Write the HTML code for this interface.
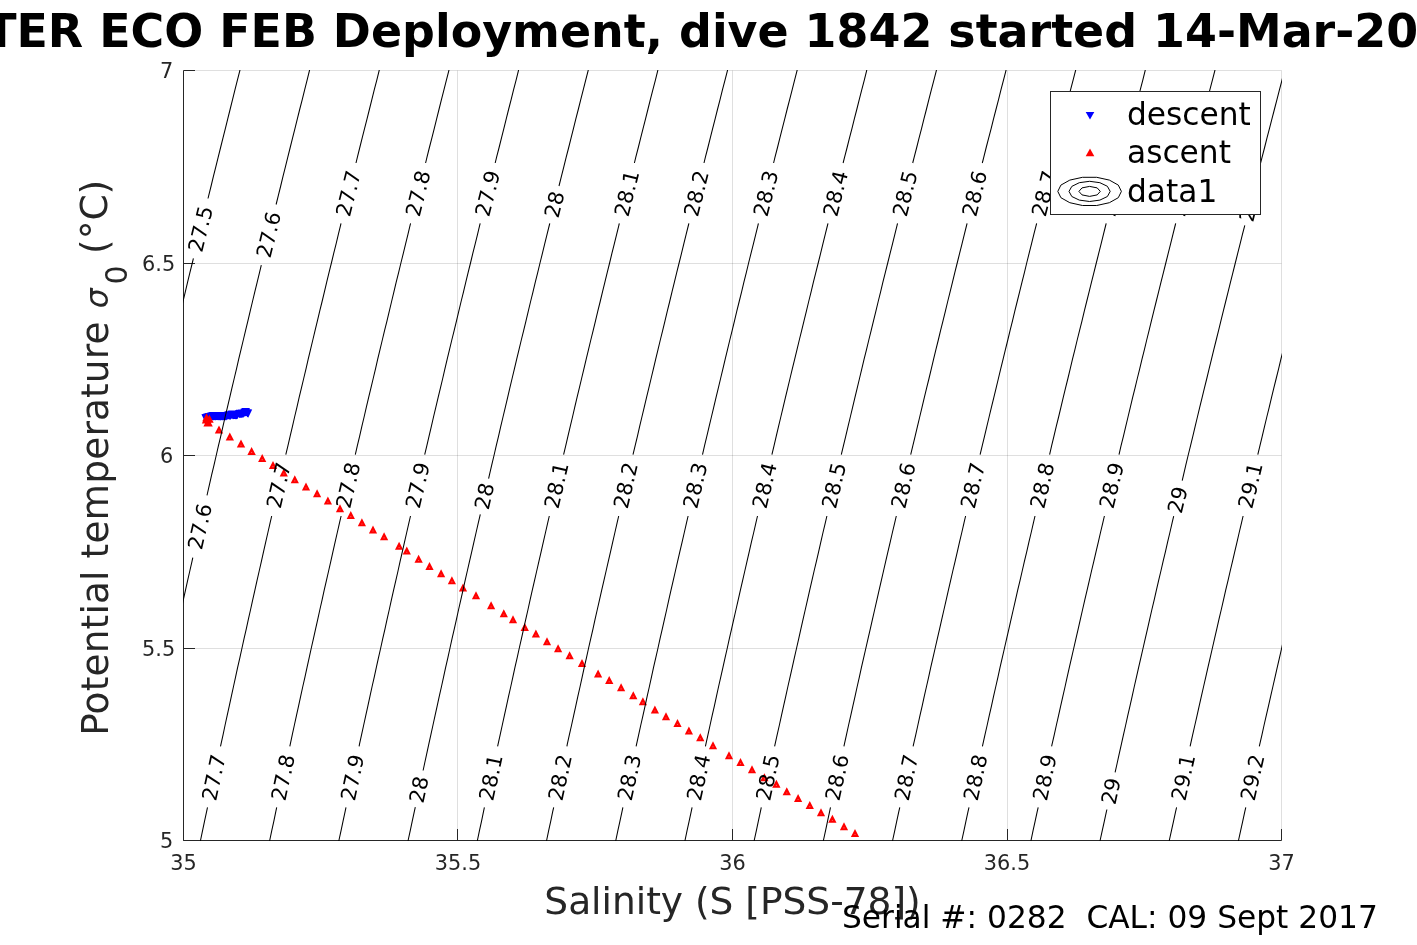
<!DOCTYPE html>
<html lang="en"><head><meta charset="utf-8"><title>T-S diagram</title>
<style>html,body{margin:0;padding:0;background:#fff;}body{width:1417px;height:945px;overflow:hidden;}svg{display:block;font-family:"DejaVu Sans","Liberation Sans",sans-serif;}</style></head><body>
<svg width="1417" height="945" viewBox="0 0 1417 945">
<defs><clipPath id="pa"><rect x="183" y="70" width="1099" height="771"/></clipPath></defs>
<rect width="1417" height="945" fill="#fff"/>
<g stroke="rgba(38,38,38,0.15)" stroke-width="1" fill="none">
<line x1="457.5" y1="70.5" x2="457.5" y2="840.5"/>
<line x1="732.5" y1="70.5" x2="732.5" y2="840.5"/>
<line x1="1007.5" y1="70.5" x2="1007.5" y2="840.5"/>
<line x1="1281.5" y1="70.5" x2="1281.5" y2="840.5"/>
<line x1="183.5" y1="648.5" x2="1281.5" y2="648.5"/>
<line x1="183.5" y1="455.5" x2="1281.5" y2="455.5"/>
<line x1="183.5" y1="263.5" x2="1281.5" y2="263.5"/>
<line x1="183.5" y1="70.5" x2="1281.5" y2="70.5"/>
</g>
<g stroke="#262626" stroke-width="1" fill="none">
<path d="M183.5 70.5V840.5H1281.5"/>
<line x1="183.5" y1="840.5" x2="183.5" y2="829"/>
<line x1="457.5" y1="840.5" x2="457.5" y2="829"/>
<line x1="732.5" y1="840.5" x2="732.5" y2="829"/>
<line x1="1007.5" y1="840.5" x2="1007.5" y2="829"/>
<line x1="1281.5" y1="840.5" x2="1281.5" y2="829"/>
<line x1="183.5" y1="840.5" x2="195" y2="840.5"/>
<line x1="183.5" y1="648.5" x2="195" y2="648.5"/>
<line x1="183.5" y1="455.5" x2="195" y2="455.5"/>
<line x1="183.5" y1="263.5" x2="195" y2="263.5"/>
<line x1="183.5" y1="70.5" x2="195" y2="70.5"/>
</g>
<g font-size="20.83" fill="#262626">
<text x="183.5" y="870.3" text-anchor="middle">35</text>
<text x="458.0" y="870.3" text-anchor="middle">35.5</text>
<text x="732.5" y="870.3" text-anchor="middle">36</text>
<text x="1007.0" y="870.3" text-anchor="middle">36.5</text>
<text x="1281.5" y="870.3" text-anchor="middle">37</text>
<text x="173.2" y="847.8" text-anchor="end">5</text>
<text x="175.2" y="656.0" text-anchor="end">5.5</text>
<text x="173.2" y="462.8" text-anchor="end">6</text>
<text x="175.2" y="271.0" text-anchor="end">6.5</text>
<text x="173.2" y="77.8" text-anchor="end">7</text>
</g>
<g clip-path="url(#pa)">
<path fill="#0000ff" d="M201.4 414.2L209.4 414.2L205.4 422.5ZM202.2 414.0L210.2 414.0L206.2 422.3ZM202.9 413.8L210.9 413.8L206.9 422.1ZM203.7 413.5L211.7 413.5L207.7 421.8ZM204.5 413.3L212.5 413.3L208.5 421.6ZM205.2 413.1L213.2 413.1L209.2 421.4ZM206.0 412.9L214.0 412.9L210.0 421.2ZM206.8 412.7L214.8 412.7L210.8 421.0ZM207.6 412.4L215.6 412.4L211.6 420.7ZM208.3 412.2L216.3 412.2L212.3 420.5ZM209.1 412.0L217.1 412.0L213.1 420.3ZM209.1 412.1L217.1 412.1L213.1 420.4ZM209.8 412.2L217.8 412.2L213.8 420.5ZM210.5 412.1L218.5 412.1L214.5 420.4ZM211.2 412.2L219.2 412.2L215.2 420.5ZM211.9 412.3L219.9 412.3L215.9 420.6ZM212.6 412.0L220.6 412.0L216.6 420.3ZM213.3 412.0L221.3 412.0L217.3 420.3ZM214.0 412.3L222.0 412.3L218.0 420.6ZM214.7 412.1L222.7 412.1L218.7 420.4ZM215.4 412.1L223.4 412.1L219.4 420.4ZM216.1 412.4L224.1 412.4L220.1 420.7ZM216.8 412.2L224.8 412.2L220.8 420.5ZM217.5 412.3L225.5 412.3L221.5 420.6ZM218.2 412.2L226.2 412.2L222.2 420.5ZM218.9 412.3L226.9 412.3L222.9 420.6ZM219.6 412.1L227.6 412.1L223.6 420.4ZM220.3 412.3L228.3 412.3L224.3 420.6ZM221.0 412.3L229.0 412.3L225.0 420.6ZM221.7 412.2L229.7 412.2L225.7 420.5ZM222.4 412.3L230.4 412.3L226.4 420.6ZM223.8 411.7L231.8 411.7L227.8 420.0ZM224.7 411.3L232.7 411.3L228.7 419.6ZM225.6 411.8L233.6 411.8L229.6 420.1ZM226.5 411.7L234.5 411.7L230.5 420.0ZM227.5 410.8L235.5 410.8L231.5 419.1ZM228.2 410.6L236.2 410.6L232.2 418.9ZM229.0 411.1L237.0 411.1L233.0 419.4ZM229.8 410.9L237.8 410.9L233.8 419.2ZM230.5 411.0L238.5 411.0L234.5 419.3ZM231.2 411.1L239.2 411.1L235.2 419.4ZM232.0 411.0L240.0 411.0L236.0 419.3ZM232.8 411.2L240.8 411.2L236.8 419.5ZM233.5 410.8L241.5 410.8L237.5 419.1ZM235.2 409.9L243.2 409.9L239.2 418.2ZM235.9 409.7L243.9 409.7L239.9 418.0ZM236.6 410.0L244.6 410.0L240.6 418.3ZM237.3 410.0L245.3 410.0L241.3 418.3ZM238.0 409.4L246.0 409.4L242.0 417.7ZM238.7 409.4L246.7 409.4L242.7 417.7ZM239.4 409.5L247.4 409.5L243.4 417.8ZM240.4 408.8L248.4 408.8L244.4 417.1ZM241.4 408.1L249.4 408.1L245.4 416.4ZM242.0 408.2L250.0 408.2L246.0 416.5ZM243.4 409.3L251.4 409.3L247.4 417.6ZM244.2 409.4L252.2 409.4L248.2 417.7Z"/>
<path fill="#ff0000" d="M202.3 421.2L210.7 421.2L206.5 413.2ZM205.3 422.8L213.7 422.8L209.5 414.8ZM201.8 423.6L210.2 423.6L206.0 415.6ZM204.4 426.6L212.8 426.6L208.6 418.6ZM203.4 426.6L211.8 426.6L207.6 418.6ZM214.8 433.4L223.2 433.4L219.0 425.4ZM225.7 440.6L234.0 440.6L229.8 432.6ZM236.8 447.6L245.2 447.6L241.0 439.6ZM247.4 454.9L255.8 454.9L251.6 446.9ZM258.1 462.0L266.3 462.0L262.2 454.0ZM268.9 469.0L277.1 469.0L273.0 461.0ZM279.7 476.4L287.9 476.4L283.8 468.4ZM290.7 483.2L298.9 483.2L294.8 475.2ZM301.9 490.4L310.1 490.4L306.0 482.4ZM313.0 497.3L321.2 497.3L317.1 489.3ZM323.8 504.6L332.0 504.6L327.9 496.6ZM335.9 512.3L344.1 512.3L340.0 504.3ZM346.7 519.0L354.9 519.0L350.8 511.0ZM357.8 526.3L366.0 526.3L361.9 518.3ZM368.9 533.4L377.1 533.4L373.0 525.4ZM380.0 540.2L388.2 540.2L384.1 532.2ZM395.0 549.8L403.2 549.8L399.1 541.8ZM402.7 554.6L410.9 554.6L406.8 546.6ZM414.5 562.8L422.8 562.8L418.6 554.8ZM425.4 570.1L433.6 570.1L429.5 562.1ZM437.0 577.3L445.2 577.3L441.1 569.3ZM447.8 584.2L456.0 584.2L451.9 576.2ZM458.9 591.4L467.1 591.4L463.0 583.4ZM471.9 599.3L480.1 599.3L476.0 591.3ZM487.0 609.3L495.2 609.3L491.1 601.3ZM499.7 617.3L507.9 617.3L503.8 609.3ZM508.9 623.3L517.1 623.3L513.0 615.3ZM520.6 631.1L528.9 631.1L524.8 623.1ZM531.8 637.6L540.0 637.6L535.9 629.6ZM542.9 645.3L551.1 645.3L547.0 637.3ZM554.0 652.2L562.2 652.2L558.1 644.2ZM565.5 659.2L573.8 659.2L569.6 651.2ZM577.9 667.1L586.1 667.1L582.0 659.1ZM594.0 677.4L602.2 677.4L598.1 669.4ZM605.1 684.1L613.4 684.1L609.2 676.1ZM617.0 691.2L625.2 691.2L621.1 683.2ZM629.1 699.2L637.4 699.2L633.3 691.2ZM638.8 705.2L647.0 705.2L642.9 697.2ZM650.8 713.4L659.0 713.4L654.9 705.4ZM661.9 720.3L670.1 720.3L666.0 712.3ZM673.4 726.9L681.6 726.9L677.5 718.9ZM684.8 734.6L693.0 734.6L688.9 726.6ZM696.1 741.2L704.4 741.2L700.3 733.2ZM708.9 749.2L717.1 749.2L713.0 741.2ZM724.9 759.2L733.1 759.2L729.0 751.2ZM736.4 766.0L744.6 766.0L740.5 758.0ZM747.9 773.3L756.1 773.3L752.0 765.3ZM760.2 781.2L768.5 781.2L764.4 773.2ZM772.2 787.7L780.5 787.7L776.4 779.7ZM782.6 795.3L790.9 795.3L786.8 787.3ZM794.0 801.9L802.2 801.9L798.1 793.9ZM805.6 809.0L813.9 809.0L809.8 801.0ZM816.9 816.3L825.1 816.3L821.0 808.3ZM828.2 822.8L836.5 822.8L832.4 814.8ZM839.9 830.2L848.1 830.2L844.0 822.2ZM850.9 836.9L859.1 836.9L855.0 828.9Z"/>
<path fill="#ff5a5a" d="M218.45 430.50h1.1v1.1h-1.1zM229.25 437.70h1.1v1.1h-1.1zM240.45 444.70h1.1v1.1h-1.1zM251.05 452.00h1.1v1.1h-1.1zM261.65 459.10h1.1v1.1h-1.1zM272.45 466.10h1.1v1.1h-1.1zM283.25 473.50h1.1v1.1h-1.1zM294.25 480.30h1.1v1.1h-1.1zM305.45 487.50h1.1v1.1h-1.1zM316.55 494.40h1.1v1.1h-1.1zM327.35 501.70h1.1v1.1h-1.1zM339.45 509.40h1.1v1.1h-1.1zM350.25 516.10h1.1v1.1h-1.1zM361.35 523.40h1.1v1.1h-1.1zM372.45 530.50h1.1v1.1h-1.1zM383.55 537.30h1.1v1.1h-1.1zM398.55 546.90h1.1v1.1h-1.1zM406.25 551.70h1.1v1.1h-1.1zM418.05 559.90h1.1v1.1h-1.1zM428.95 567.20h1.1v1.1h-1.1zM440.55 574.40h1.1v1.1h-1.1zM451.35 581.30h1.1v1.1h-1.1zM462.45 588.50h1.1v1.1h-1.1zM475.45 596.40h1.1v1.1h-1.1zM490.55 606.40h1.1v1.1h-1.1zM503.25 614.40h1.1v1.1h-1.1zM512.45 620.40h1.1v1.1h-1.1zM524.25 628.20h1.1v1.1h-1.1zM535.35 634.70h1.1v1.1h-1.1zM546.45 642.40h1.1v1.1h-1.1zM557.55 649.30h1.1v1.1h-1.1zM569.05 656.30h1.1v1.1h-1.1zM581.45 664.20h1.1v1.1h-1.1zM597.55 674.50h1.1v1.1h-1.1zM608.65 681.20h1.1v1.1h-1.1zM620.55 688.30h1.1v1.1h-1.1zM632.75 696.30h1.1v1.1h-1.1zM642.35 702.30h1.1v1.1h-1.1zM654.35 710.50h1.1v1.1h-1.1zM665.45 717.40h1.1v1.1h-1.1zM676.95 724.00h1.1v1.1h-1.1zM688.35 731.70h1.1v1.1h-1.1zM699.75 738.30h1.1v1.1h-1.1zM712.45 746.30h1.1v1.1h-1.1zM728.45 756.30h1.1v1.1h-1.1zM739.95 763.10h1.1v1.1h-1.1zM751.45 770.40h1.1v1.1h-1.1zM763.85 778.30h1.1v1.1h-1.1zM775.85 784.80h1.1v1.1h-1.1zM786.25 792.40h1.1v1.1h-1.1zM797.55 799.00h1.1v1.1h-1.1zM809.25 806.10h1.1v1.1h-1.1zM820.45 813.40h1.1v1.1h-1.1zM831.85 819.90h1.1v1.1h-1.1zM843.45 827.30h1.1v1.1h-1.1zM854.45 834.00h1.1v1.1h-1.1z"/>
</g>
<g clip-path="url(#pa)" stroke="#000" stroke-width="1.05" fill="none" stroke-linecap="butt">
<path d="M62.0 841.5L62.0 840.5L64.0 830.9L66.1 821.3L68.1 811.6L70.1 802.0L72.1 792.4L74.2 782.7L76.2 773.1L78.3 763.5L80.3 753.9L82.4 744.2L84.5 734.6L86.5 725.0L88.6 715.4L90.7 705.8L92.8 696.1L94.9 686.5L97.0 676.9L99.1 667.2L101.2 657.6L103.3 648.0L105.4 638.4L107.6 628.8L109.7 619.1L111.8 609.5L114.0 599.9L116.1 590.2L118.3 580.6L120.4 571.0L122.6 561.4L124.8 551.8L126.9 542.1L129.1 532.5L131.3 522.9L133.5 513.3L135.7 503.6L137.9 494.0L140.1 484.4L142.3 474.7L144.5 465.1L146.7 455.5L149.0 445.9L151.2 436.3L153.4 426.6L155.7 417.0L157.9 407.4L160.2 397.7L162.4 388.1L164.7 378.5L167.0 368.9L169.2 359.2L171.5 349.6L173.8 340.0L176.1 330.4L178.4 320.8L180.7 311.1L183.0 301.5L185.3 291.9L187.6 282.2L189.9 272.6L192.3 263.0L193.4 258.4M208.0 198.5L208.7 195.6L211.1 186.0L213.4 176.4L215.8 166.8L218.2 157.1L220.6 147.5L223.0 137.9L225.4 128.3L227.8 118.6L230.2 109.0L232.6 99.4L235.0 89.7L237.4 80.1L239.9 70.5L239.9 69.5"/>
<path d="M131.3 841.5L131.3 840.5L133.3 830.9L135.3 821.3L137.3 811.6L139.4 802.0L141.4 792.4L143.5 782.7L145.5 773.1L147.6 763.5L149.6 753.9L151.7 744.2L153.8 734.6L155.8 725.0L157.9 715.4L160.0 705.8L162.1 696.1L164.2 686.5L166.3 676.9L168.4 667.2L170.5 657.6L172.7 648.0L174.8 638.4L176.9 628.8L179.0 619.1L181.2 609.5L183.3 599.9L185.5 590.2L187.6 580.6L189.8 571.0L192.0 561.4L192.8 557.6M207.0 495.3L207.3 494.0L209.5 484.4L211.7 474.7L214.0 465.1L216.2 455.5L218.4 445.9L220.7 436.3L222.9 426.6L225.1 417.0L227.4 407.4L229.7 397.7L231.9 388.1L234.2 378.5L236.5 368.9L238.7 359.2L241.0 349.6L243.3 340.0L245.6 330.4L247.9 320.8L250.2 311.1L252.5 301.5L254.8 291.9L257.2 282.2L259.5 272.6L261.3 265.2M276.1 204.5L278.3 195.6L280.7 186.0L283.0 176.4L285.4 166.8L287.8 157.1L290.2 147.5L292.6 137.9L295.0 128.3L297.4 118.6L299.8 109.0L302.3 99.4L304.7 89.7L307.1 80.1L309.5 70.5L309.5 69.5"/>
<path d="M200.5 841.5L200.5 840.5L202.5 830.9L204.5 821.3L206.6 811.6L207.5 807.4M220.5 746.4L221.0 744.2L223.1 734.6L225.1 725.0L227.2 715.4L229.3 705.8L231.4 696.1L233.5 686.5L235.6 676.9L237.7 667.2L239.9 657.6L242.0 648.0L244.1 638.4L246.3 628.8L248.4 619.1L250.6 609.5L252.7 599.9L254.9 590.2L257.0 580.6L259.2 571.0L261.4 561.4L263.5 551.8L265.7 542.1L267.9 532.5L270.1 522.9L271.7 516.0M285.8 454.6L287.9 445.9L290.1 436.3L292.4 426.6L294.6 417.0L296.9 407.4L299.1 397.7L301.4 388.1L303.7 378.5L306.0 368.9L308.2 359.2L310.5 349.6L312.8 340.0L315.1 330.4L317.4 320.8L319.7 311.1L322.1 301.5L324.4 291.9L326.7 282.2L329.0 272.6L331.4 263.0L333.7 253.4L336.1 243.8L338.4 234.1L340.8 224.5L341.0 223.4M356.0 163.0L357.4 157.1L359.8 147.5L362.2 137.9L364.6 128.3L367.1 118.6L369.5 109.0L371.9 99.4L374.3 89.7L376.8 80.1L379.2 70.5L379.2 69.5"/>
<path d="M269.7 841.5L269.7 840.5L271.7 830.9L273.8 821.3L275.8 811.6L276.7 807.4M289.8 746.4L290.3 744.2L292.3 734.6L294.4 725.0L296.5 715.4L298.6 705.8L300.7 696.1L302.8 686.5L305.0 676.9L307.1 667.2L309.2 657.6L311.3 648.0L313.5 638.4L315.6 628.8L317.8 619.1L319.9 609.5L322.1 599.9L324.2 590.2L326.4 580.6L328.6 571.0L330.8 561.4L332.9 551.8L335.1 542.1L337.3 532.5L339.5 522.9L341.1 516.0M355.3 454.6L357.3 445.9L359.6 436.3L361.8 426.6L364.1 417.0L366.3 407.4L368.6 397.7L370.9 388.1L373.2 378.5L375.5 368.9L377.7 359.2L380.0 349.6L382.3 340.0L384.6 330.4L387.0 320.8L389.3 311.1L391.6 301.5L393.9 291.9L396.2 282.2L398.6 272.6L400.9 263.0L403.3 253.4L405.6 243.8L408.0 234.1L410.3 224.5L410.6 223.4M425.6 163.0L427.0 157.1L429.4 147.5L431.9 137.9L434.3 128.3L436.7 118.6L439.1 109.0L441.5 99.4L444.0 89.7L446.4 80.1L448.9 70.5L448.9 69.5"/>
<path d="M338.9 841.5L338.9 840.5L341.0 830.9L343.0 821.3L345.1 811.6L346.0 807.4M359.1 746.4L359.5 744.2L361.6 734.6L363.7 725.0L365.8 715.4L367.9 705.8L370.0 696.1L372.1 686.5L374.3 676.9L376.4 667.2L378.5 657.6L380.7 648.0L382.8 638.4L385.0 628.8L387.1 619.1L389.3 609.5L391.4 599.9L393.6 590.2L395.8 580.6L398.0 571.0L400.1 561.4L402.3 551.8L404.5 542.1L406.7 532.5L408.9 522.9L410.5 516.0M424.7 454.6L426.8 445.9L429.0 436.3L431.3 426.6L433.5 417.0L435.8 407.4L438.1 397.7L440.4 388.1L442.7 378.5L444.9 368.9L447.2 359.2L449.5 349.6L451.8 340.0L454.2 330.4L456.5 320.8L458.8 311.1L461.1 301.5L463.5 291.9L465.8 282.2L468.1 272.6L470.5 263.0L472.8 253.4L475.2 243.8L477.6 234.1L479.9 224.5L480.2 223.4M495.2 163.0L496.6 157.1L499.1 147.5L501.5 137.9L503.9 128.3L506.3 118.6L508.7 109.0L511.2 99.4L513.6 89.7L516.1 80.1L518.5 70.5L518.5 69.5"/>
<path d="M408.1 841.5L408.1 840.5L410.2 830.9L412.2 821.3L414.3 811.6L415.3 807.1M423.1 770.5L424.6 763.5L426.7 753.9L428.8 744.2L430.9 734.6L433.0 725.0L435.1 715.4L437.2 705.8L439.3 696.1L441.5 686.5L443.6 676.9L445.7 667.2L447.9 657.6L450.0 648.0L452.1 638.4L454.3 628.8L456.5 619.1L458.6 609.5L460.8 599.9L463.0 590.2L465.1 580.6L467.3 571.0L469.5 561.4L471.7 551.8L473.9 542.1L476.1 532.5L478.3 522.9L480.3 514.3M488.6 478.6L489.5 474.7L491.7 465.1L494.0 455.5L496.2 445.9L498.5 436.3L500.7 426.6L503.0 417.0L505.3 407.4L507.6 397.7L509.8 388.1L512.1 378.5L514.4 368.9L516.7 359.2L519.0 349.6L521.3 340.0L523.7 330.4L526.0 320.8L528.3 311.1L530.6 301.5L533.0 291.9L535.3 282.2L537.7 272.6L540.0 263.0L542.4 253.4L544.7 243.8L547.1 234.1L549.5 224.5L549.8 223.4M559.0 186.0L559.0 186.0L561.4 176.4L563.8 166.8L566.2 157.1L568.7 147.5L571.1 137.9L573.5 128.3L575.9 118.6L578.4 109.0L580.8 99.4L583.3 89.7L585.7 80.1L588.2 70.5L588.2 69.5"/>
<path d="M477.4 841.5L477.4 840.5L479.4 830.9L481.5 821.3L483.5 811.6L484.4 807.4M497.6 746.4L498.1 744.2L500.2 734.6L502.3 725.0L504.4 715.4L506.5 705.8L508.6 696.1L510.8 686.5L512.9 676.9L515.0 667.2L517.2 657.6L519.3 648.0L521.5 638.4L523.6 628.8L525.8 619.1L528.0 609.5L530.1 599.9L532.3 590.2L534.5 580.6L536.7 571.0L538.9 561.4L541.1 551.8L543.3 542.1L545.5 532.5L547.7 522.9L549.3 516.0M563.6 454.6L565.7 445.9L567.9 436.3L570.2 426.6L572.5 417.0L574.7 407.4L577.0 397.7L579.3 388.1L581.6 378.5L583.9 368.9L586.2 359.2L588.5 349.6L590.8 340.0L593.2 330.4L595.5 320.8L597.8 311.1L600.2 301.5L602.5 291.9L604.9 282.2L607.2 272.6L609.6 263.0L611.9 253.4L614.3 243.8L616.7 234.1L619.1 224.5L619.3 223.4M634.4 163.0L635.8 157.1L638.3 147.5L640.7 137.9L643.1 128.3L645.6 118.6L648.0 109.0L650.4 99.4L652.9 89.7L655.4 80.1L657.8 70.5L657.8 69.5"/>
<path d="M546.6 841.5L546.6 840.5L548.6 830.9L550.7 821.3L552.7 811.6L553.7 807.4M566.9 746.4L567.3 744.2L569.4 734.6L571.6 725.0L573.7 715.4L575.8 705.8L577.9 696.1L580.1 686.5L582.2 676.9L584.3 667.2L586.5 657.6L588.6 648.0L590.8 638.4L593.0 628.8L595.1 619.1L597.3 609.5L599.5 599.9L601.7 590.2L603.9 580.6L606.1 571.0L608.3 561.4L610.5 551.8L612.7 542.1L614.9 532.5L617.1 522.9L618.7 516.0M633.0 454.6L635.1 445.9L637.4 436.3L639.6 426.6L641.9 417.0L644.2 407.4L646.5 397.7L648.8 388.1L651.1 378.5L653.4 368.9L655.7 359.2L658.0 349.6L660.3 340.0L662.7 330.4L665.0 320.8L667.3 311.1L669.7 301.5L672.0 291.9L674.4 282.2L676.7 272.6L679.1 263.0L681.5 253.4L683.8 243.8L686.2 234.1L688.6 224.5L688.9 223.4M704.0 163.0L705.4 157.1L707.9 147.5L710.3 137.9L712.7 128.3L715.2 118.6L717.6 109.0L720.1 99.4L722.5 89.7L725.0 80.1L727.5 70.5L727.5 69.5"/>
<path d="M615.8 841.5L615.8 840.5L617.8 830.9L619.9 821.3L622.0 811.6L622.9 807.4M636.1 746.4L636.6 744.2L638.7 734.6L640.8 725.0L643.0 715.4L645.1 705.8L647.2 696.1L649.4 686.5L651.5 676.9L653.6 667.2L655.8 657.6L658.0 648.0L660.1 638.4L662.3 628.8L664.5 619.1L666.7 609.5L668.8 599.9L671.0 590.2L673.2 580.6L675.4 571.0L677.6 561.4L679.8 551.8L682.1 542.1L684.3 532.5L686.5 522.9L688.1 516.0M702.5 454.6L704.5 445.9L706.8 436.3L709.1 426.6L711.4 417.0L713.7 407.4L716.0 397.7L718.3 388.1L720.6 378.5L722.9 368.9L725.2 359.2L727.5 349.6L729.8 340.0L732.2 330.4L734.5 320.8L736.8 311.1L739.2 301.5L741.6 291.9L743.9 282.2L746.3 272.6L748.6 263.0L751.0 253.4L753.4 243.8L755.8 234.1L758.2 224.5L758.4 223.4M773.6 163.0L775.0 157.1L777.5 147.5L779.9 137.9L782.3 128.3L784.8 118.6L787.2 109.0L789.7 99.4L792.2 89.7L794.6 80.1L797.1 70.5L797.1 69.5"/>
<path d="M685.0 841.5L685.0 840.5L687.0 830.9L689.1 821.3L691.2 811.6L692.1 807.4M705.4 746.4L705.9 744.2L708.0 734.6L710.1 725.0L712.2 715.4L714.4 705.8L716.5 696.1L718.6 686.5L720.8 676.9L723.0 667.2L725.1 657.6L727.3 648.0L729.4 638.4L731.6 628.8L733.8 619.1L736.0 609.5L738.2 599.9L740.4 590.2L742.6 580.6L744.8 571.0L747.0 561.4L749.2 551.8L751.4 542.1L753.7 532.5L755.9 522.9L757.5 516.0M771.9 454.6L774.0 445.9L776.2 436.3L778.5 426.6L780.8 417.0L783.1 407.4L785.4 397.7L787.7 388.1L790.0 378.5L792.3 368.9L794.7 359.2L797.0 349.6L799.3 340.0L801.7 330.4L804.0 320.8L806.4 311.1L808.7 301.5L811.1 291.9L813.4 282.2L815.8 272.6L818.2 263.0L820.6 253.4L822.9 243.8L825.3 234.1L827.7 224.5L828.0 223.4M843.1 163.0L844.6 157.1L847.1 147.5L849.5 137.9L852.0 128.3L854.4 118.6L856.9 109.0L859.3 99.4L861.8 89.7L864.3 80.1L866.7 70.5L866.7 69.5"/>
<path d="M754.2 841.5L754.2 840.5L756.3 830.9L758.3 821.3L760.4 811.6L761.3 807.4M774.6 746.4L775.1 744.2L777.2 734.6L779.4 725.0L781.5 715.4L783.6 705.8L785.8 696.1L787.9 686.5L790.1 676.9L792.3 667.2L794.4 657.6L796.6 648.0L798.8 638.4L800.9 628.8L803.1 619.1L805.3 609.5L807.5 599.9L809.7 590.2L811.9 580.6L814.1 571.0L816.4 561.4L818.6 551.8L820.8 542.1L823.0 532.5L825.3 522.9L826.9 516.0M841.3 454.6L843.4 445.9L845.7 436.3L848.0 426.6L850.3 417.0L852.6 407.4L854.9 397.7L857.2 388.1L859.5 378.5L861.8 368.9L864.1 359.2L866.5 349.6L868.8 340.0L871.2 330.4L873.5 320.8L875.9 311.1L878.2 301.5L880.6 291.9L882.9 282.2L885.3 272.6L887.7 263.0L890.1 253.4L892.5 243.8L894.9 234.1L897.3 224.5L897.5 223.4M912.7 163.0L914.2 157.1L916.7 147.5L919.1 137.9L921.6 128.3L924.0 118.6L926.5 109.0L928.9 99.4L931.4 89.7L933.9 80.1L936.4 70.5L936.4 69.5"/>
<path d="M823.4 841.5L823.4 840.5L825.5 830.9L827.5 821.3L829.6 811.6L830.5 807.4M843.9 746.4L844.4 744.2L846.5 734.6L848.6 725.0L850.8 715.4L852.9 705.8L855.1 696.1L857.2 686.5L859.4 676.9L861.5 667.2L863.7 657.6L865.9 648.0L868.1 638.4L870.3 628.8L872.5 619.1L874.7 609.5L876.9 599.9L879.1 590.2L881.3 580.6L883.5 571.0L885.7 561.4L887.9 551.8L890.2 542.1L892.4 532.5L894.7 522.9L896.3 516.0M910.7 454.6L912.8 445.9L915.1 436.3L917.4 426.6L919.7 417.0L922.0 407.4L924.3 397.7L926.6 388.1L929.0 378.5L931.3 368.9L933.6 359.2L935.9 349.6L938.3 340.0L940.6 330.4L943.0 320.8L945.4 311.1L947.7 301.5L950.1 291.9L952.5 282.2L954.8 272.6L957.2 263.0L959.6 253.4L962.0 243.8L964.4 234.1L966.8 224.5L967.1 223.4M982.3 163.0L983.8 157.1L986.2 147.5L988.7 137.9L991.2 128.3L993.6 118.6L996.1 109.0L998.6 99.4L1001.0 89.7L1003.5 80.1L1006.0 70.5L1006.0 69.5"/>
<path d="M892.6 841.5L892.6 840.5L894.7 830.9L896.7 821.3L898.8 811.6L899.8 807.4M913.1 746.4L913.6 744.2L915.8 734.6L917.9 725.0L920.0 715.4L922.2 705.8L924.3 696.1L926.5 686.5L928.7 676.9L930.8 667.2L933.0 657.6L935.2 648.0L937.4 638.4L939.6 628.8L941.8 619.1L944.0 609.5L946.2 599.9L948.4 590.2L950.6 580.6L952.8 571.0L955.1 561.4L957.3 551.8L959.5 542.1L961.8 532.5L964.0 522.9L965.6 516.0M980.1 454.6L982.2 445.9L984.5 436.3L986.8 426.6L989.1 417.0L991.4 407.4L993.8 397.7L996.1 388.1L998.4 378.5L1000.7 368.9L1003.1 359.2L1005.4 349.6L1007.8 340.0L1010.1 330.4L1012.5 320.8L1014.8 311.1L1017.2 301.5L1019.6 291.9L1022.0 282.2L1024.4 272.6L1026.7 263.0L1029.1 253.4L1031.5 243.8L1033.9 234.1L1036.4 224.5L1036.6 223.4M1051.9 163.0L1053.4 157.1L1055.8 147.5L1058.3 137.9L1060.7 128.3L1063.2 118.6L1065.7 109.0L1068.2 99.4L1070.6 89.7L1073.1 80.1L1075.6 70.5L1075.6 69.5"/>
<path d="M961.8 841.5L961.8 840.5L963.9 830.9L965.9 821.3L968.0 811.6L969.0 807.4M982.4 746.4L982.9 744.2L985.0 734.6L987.2 725.0L989.3 715.4L991.5 705.8L993.6 696.1L995.8 686.5L998.0 676.9L1000.1 667.2L1002.3 657.6L1004.5 648.0L1006.7 638.4L1008.9 628.8L1011.1 619.1L1013.3 609.5L1015.5 599.9L1017.7 590.2L1020.0 580.6L1022.2 571.0L1024.4 561.4L1026.7 551.8L1028.9 542.1L1031.2 532.5L1033.4 522.9L1035.0 516.0M1049.6 454.6L1051.6 445.9L1053.9 436.3L1056.2 426.6L1058.6 417.0L1060.9 407.4L1063.2 397.7L1065.5 388.1L1067.9 378.5L1070.2 368.9L1072.5 359.2L1074.9 349.6L1077.2 340.0L1079.6 330.4L1082.0 320.8L1084.3 311.1L1086.7 301.5L1089.1 291.9L1091.5 282.2L1093.9 272.6L1096.3 263.0L1098.7 253.4L1101.1 243.8L1103.5 234.1L1105.9 224.5L1106.2 223.4M1121.5 163.0L1123.0 157.1L1125.4 147.5L1127.9 137.9L1130.3 128.3L1132.8 118.6L1135.3 109.0L1137.8 99.4L1140.3 89.7L1142.8 80.1L1145.2 70.5L1145.2 69.5"/>
<path d="M1031.0 841.5L1031.0 840.5L1033.0 830.9L1035.1 821.3L1037.2 811.6L1038.2 807.4M1051.6 746.4L1052.1 744.2L1054.3 734.6L1056.4 725.0L1058.6 715.4L1060.7 705.8L1062.9 696.1L1065.1 686.5L1067.2 676.9L1069.4 667.2L1071.6 657.6L1073.8 648.0L1076.0 638.4L1078.2 628.8L1080.4 619.1L1082.6 609.5L1084.8 599.9L1087.1 590.2L1089.3 580.6L1091.5 571.0L1093.8 561.4L1096.0 551.8L1098.3 542.1L1100.5 532.5L1102.8 522.9L1104.4 516.0M1119.0 454.6L1121.0 445.9L1123.4 436.3L1125.7 426.6L1128.0 417.0L1130.3 407.4L1132.6 397.7L1135.0 388.1L1137.3 378.5L1139.7 368.9L1142.0 359.2L1144.4 349.6L1146.7 340.0L1149.1 330.4L1151.4 320.8L1153.8 311.1L1156.2 301.5L1158.6 291.9L1161.0 282.2L1163.4 272.6L1165.8 263.0L1168.2 253.4L1170.6 243.8L1173.0 234.1L1175.4 224.5L1175.7 223.4M1191.0 163.0L1192.5 157.1L1195.0 147.5L1197.5 137.9L1199.9 128.3L1202.4 118.6L1204.9 109.0L1207.4 99.4L1209.9 89.7L1212.4 80.1L1214.9 70.5L1214.9 69.5"/>
<path d="M1100.1 841.5L1100.1 840.5L1102.2 830.9L1104.3 821.3L1106.4 811.6L1106.9 809.5M1115.1 772.4L1117.1 763.5L1119.2 753.9L1121.4 744.2L1123.5 734.6L1125.7 725.0L1127.8 715.4L1130.0 705.8L1132.2 696.1L1134.3 686.5L1136.5 676.9L1138.7 667.2L1140.9 657.6L1143.1 648.0L1145.3 638.4L1147.5 628.8L1149.7 619.1L1151.9 609.5L1154.2 599.9L1156.4 590.2L1158.6 580.6L1160.9 571.0L1163.1 561.4L1165.4 551.8L1167.6 542.1L1169.9 532.5L1172.1 522.9L1173.7 516.2M1182.2 480.6L1183.6 474.7L1185.8 465.1L1188.1 455.5L1190.5 445.9L1192.8 436.3L1195.1 426.6L1197.4 417.0L1199.7 407.4L1202.1 397.7L1204.4 388.1L1206.8 378.5L1209.1 368.9L1211.5 359.2L1213.8 349.6L1216.2 340.0L1218.6 330.4L1220.9 320.8L1223.3 311.1L1225.7 301.5L1228.1 291.9L1230.5 282.2L1232.9 272.6L1235.3 263.0L1237.7 253.4L1240.1 243.8L1242.5 234.1L1244.8 225.3M1254.7 186.0L1254.7 186.0L1257.2 176.4L1259.6 166.8L1262.1 157.1L1264.6 147.5L1267.0 137.9L1269.5 128.3L1272.0 118.6L1274.5 109.0L1277.0 99.4L1279.5 89.7L1282.0 80.1L1284.5 70.5L1284.5 69.5"/>
<path d="M1169.3 841.5L1169.3 840.5L1171.4 830.9L1173.5 821.3L1175.6 811.6L1176.6 807.4M1190.1 746.4L1190.6 744.2L1192.7 734.6L1194.9 725.0L1197.1 715.4L1199.2 705.8L1201.4 696.1L1203.6 686.5L1205.8 676.9L1208.0 667.2L1210.2 657.6L1212.4 648.0L1214.6 638.4L1216.8 628.8L1219.0 619.1L1221.3 609.5L1223.5 599.9L1225.7 590.2L1228.0 580.6L1230.2 571.0L1232.5 561.4L1234.7 551.8L1237.0 542.1L1239.2 532.5L1241.5 522.9L1243.1 516.0M1257.8 454.6L1259.9 445.9L1262.2 436.3L1264.5 426.6L1266.8 417.0L1269.2 407.4L1271.5 397.7L1273.8 388.1L1276.2 378.5L1278.6 368.9L1280.9 359.2L1283.3 349.6L1285.6 340.0L1288.0 330.4L1290.4 320.8L1292.8 311.1L1295.2 301.5L1297.6 291.9L1300.0 282.2L1302.4 272.6L1304.8 263.0L1307.2 253.4L1309.6 243.8L1312.1 234.1L1314.5 224.5L1316.9 214.9L1319.4 205.2L1321.8 195.6L1324.3 186.0L1326.7 176.4L1329.2 166.8L1331.7 157.1L1334.1 147.5L1336.6 137.9L1339.1 128.3L1341.6 118.6L1344.1 109.0L1346.6 99.4L1349.1 89.7L1351.6 80.1L1354.1 70.5L1354.1 69.5"/>
<path d="M1238.5 841.5L1238.5 840.5L1240.6 830.9L1242.7 821.3L1244.8 811.6L1245.8 807.4M1259.3 746.4L1259.8 744.2L1262.0 734.6L1264.1 725.0L1266.3 715.4L1268.5 705.8L1270.7 696.1L1272.9 686.5L1275.1 676.9L1277.3 667.2L1279.5 657.6L1281.7 648.0L1283.9 638.4L1286.1 628.8L1288.3 619.1L1290.6 609.5L1292.8 599.9L1295.0 590.2L1297.3 580.6L1299.5 571.0L1301.8 561.4L1304.0 551.8L1306.3 542.1L1308.6 532.5L1310.9 522.9L1313.1 513.3L1315.4 503.6L1317.7 494.0L1320.0 484.4L1322.3 474.7L1324.6 465.1L1326.9 455.5L1329.3 445.9L1331.6 436.3L1333.9 426.6L1336.2 417.0L1338.6 407.4L1340.9 397.7L1343.3 388.1L1345.6 378.5L1348.0 368.9L1350.4 359.2L1352.7 349.6L1355.1 340.0L1357.5 330.4L1359.9 320.8L1362.3 311.1L1364.7 301.5L1367.1 291.9L1369.5 282.2L1371.9 272.6L1374.3 263.0L1376.7 253.4L1379.1 243.8L1381.6 234.1L1384.0 224.5L1386.5 214.9L1388.9 205.2L1391.4 195.6L1393.8 186.0L1396.3 176.4L1398.7 166.8L1401.2 157.1L1403.7 147.5L1406.2 137.9L1408.7 128.3L1411.2 118.6L1413.7 109.0L1416.2 99.4L1418.7 89.7L1421.2 80.1L1423.7 70.5L1423.7 69.5"/>
</g>
<g clip-path="url(#pa)" font-size="20.83" fill="#000" text-anchor="middle">
<text transform="translate(200.5 229.0) rotate(-76.3)" y="7.25">27.5</text>
<text transform="translate(268.7 234.8) rotate(-76.3)" y="7.25">27.6</text>
<text transform="translate(199.9 526.5) rotate(-77.2)" y="7.25">27.6</text>
<text transform="translate(348.4 193.5) rotate(-76.1)" y="7.25">27.7</text>
<text transform="translate(278.7 485.4) rotate(-77.0)" y="7.25">27.7</text>
<text transform="translate(213.8 777.5) rotate(-77.9)" y="7.25">27.7</text>
<text transform="translate(418.0 193.5) rotate(-76.1)" y="7.25">27.8</text>
<text transform="translate(348.1 485.4) rotate(-77.0)" y="7.25">27.8</text>
<text transform="translate(283.1 777.5) rotate(-77.9)" y="7.25">27.8</text>
<text transform="translate(487.6 193.5) rotate(-76.1)" y="7.25">27.9</text>
<text transform="translate(417.6 485.4) rotate(-77.0)" y="7.25">27.9</text>
<text transform="translate(352.4 777.5) rotate(-77.9)" y="7.25">27.9</text>
<text transform="translate(554.4 204.5) rotate(-76.1)" y="7.25">28</text>
<text transform="translate(484.5 496.2) rotate(-77.0)" y="7.25">28</text>
<text transform="translate(419.0 789.6) rotate(-77.9)" y="7.25">28</text>
<text transform="translate(626.7 193.5) rotate(-76.0)" y="7.25">28.1</text>
<text transform="translate(556.4 485.4) rotate(-76.9)" y="7.25">28.1</text>
<text transform="translate(490.9 777.5) rotate(-77.8)" y="7.25">28.1</text>
<text transform="translate(696.3 193.5) rotate(-76.0)" y="7.25">28.2</text>
<text transform="translate(625.8 485.4) rotate(-76.9)" y="7.25">28.2</text>
<text transform="translate(560.1 777.5) rotate(-77.8)" y="7.25">28.2</text>
<text transform="translate(765.9 193.5) rotate(-76.0)" y="7.25">28.3</text>
<text transform="translate(695.2 485.4) rotate(-76.8)" y="7.25">28.3</text>
<text transform="translate(629.4 777.5) rotate(-77.7)" y="7.25">28.3</text>
<text transform="translate(835.5 193.5) rotate(-75.9)" y="7.25">28.4</text>
<text transform="translate(764.6 485.4) rotate(-76.8)" y="7.25">28.4</text>
<text transform="translate(698.6 777.5) rotate(-77.7)" y="7.25">28.4</text>
<text transform="translate(905.0 193.5) rotate(-75.9)" y="7.25">28.5</text>
<text transform="translate(834.0 485.4) rotate(-76.8)" y="7.25">28.5</text>
<text transform="translate(767.8 777.5) rotate(-77.7)" y="7.25">28.5</text>
<text transform="translate(974.6 193.5) rotate(-75.9)" y="7.25">28.6</text>
<text transform="translate(903.4 485.4) rotate(-76.7)" y="7.25">28.6</text>
<text transform="translate(837.1 777.5) rotate(-77.7)" y="7.25">28.6</text>
<text transform="translate(1044.2 193.5) rotate(-75.8)" y="7.25">28.7</text>
<text transform="translate(972.8 485.4) rotate(-76.7)" y="7.25">28.7</text>
<text transform="translate(906.3 777.5) rotate(-77.6)" y="7.25">28.7</text>
<text transform="translate(1113.7 193.5) rotate(-75.8)" y="7.25">28.8</text>
<text transform="translate(1042.2 485.4) rotate(-76.7)" y="7.25">28.8</text>
<text transform="translate(975.5 777.5) rotate(-77.6)" y="7.25">28.8</text>
<text transform="translate(1183.3 193.5) rotate(-75.8)" y="7.25">28.9</text>
<text transform="translate(1111.6 485.4) rotate(-76.7)" y="7.25">28.9</text>
<text transform="translate(1044.7 777.5) rotate(-77.6)" y="7.25">28.9</text>
<text transform="translate(1249.1 208.3) rotate(-75.8)" y="7.25">29</text>
<text transform="translate(1177.6 499.9) rotate(-76.7)" y="7.25">29</text>
<text transform="translate(1111.0 791.1) rotate(-77.6)" y="7.25">29</text>
<text transform="translate(1250.4 485.4) rotate(-76.6)" y="7.25">29.1</text>
<text transform="translate(1183.2 777.5) rotate(-77.5)" y="7.25">29.1</text>
<text transform="translate(1252.4 777.5) rotate(-77.5)" y="7.25">29.2</text>
</g>
<rect x="1050.5" y="91.5" width="210" height="123" fill="#fff" stroke="#262626" stroke-width="1"/>
<path fill="#0000ff" d="M1085.7 112.0L1094.3 112.0L1090.0 119.6Z"/>
<path fill="#ff0000" d="M1085.7 156.2L1094.3 156.2L1090.0 148.6Z"/>
<path fill="none" stroke="#000" stroke-width="1" d="M1121.4 191.4L1118.3 197.7L1109.4 202.7L1096.7 205.5L1082.5 205.5L1069.8 202.7L1060.9 197.7L1057.8 191.4L1060.9 185.1L1069.8 180.1L1082.5 177.3L1096.7 177.3L1109.4 180.1L1118.3 185.1ZM1110.2 191.4L1107.4 196.5L1099.9 200.1L1089.6 201.5L1079.3 200.1L1071.8 196.5L1069.0 191.4L1071.8 186.4L1079.3 182.7L1089.6 181.3L1099.9 182.7L1107.4 186.3ZM1100.3 191.4L1097.2 194.9L1089.6 196.4L1082.0 194.9L1078.9 191.4L1082.0 187.9L1089.6 186.4L1097.2 187.9Z"/>
<g font-size="31.25" fill="#000">
<text x="1127.0" y="124.6">descent</text><text x="1127.0" y="162.9">ascent</text><text x="1127.0" y="201.5">data1</text>
</g>
<text x="732.5" y="913.5" font-size="37.50" fill="#262626" text-anchor="middle">Salinity (S [PSS-78])</text>
<text transform="translate(108.1 735.8) rotate(-90)" font-size="37.50" fill="#262626" letter-spacing="0.12">Potential temperature<tspan x="427.6" letter-spacing="0" font-size="31.5" font-style="italic">σ</tspan><tspan x="451.2" dy="19.0" letter-spacing="0" font-size="30">0</tspan><tspan x="481.8" dy="-20.0" letter-spacing="0">(°C)</tspan></text>
<text x="842" y="927.5" font-size="31.25" fill="#000" xml:space="preserve" style="white-space:pre">Serial #: 0282  CAL: 09 Sept 2017</text>
<text x="-14.8" y="46.9" font-size="45.90" font-weight="bold" fill="#000">TER ECO FEB Deployment, dive 1842 started 14-Mar-2018</text>
</svg></body></html>
